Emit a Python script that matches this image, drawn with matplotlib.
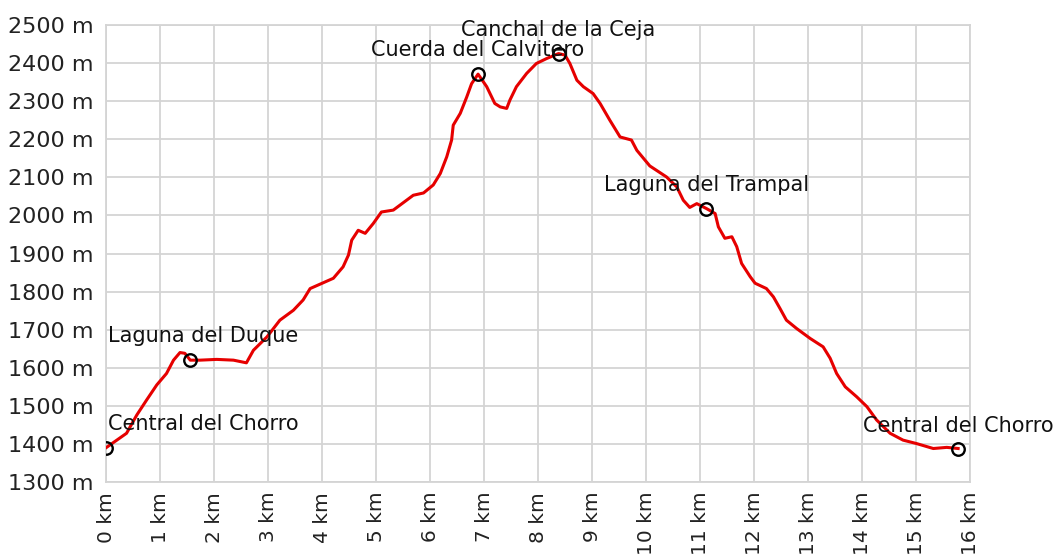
import matplotlib
matplotlib.use("Agg")
import matplotlib.pyplot as plt
from matplotlib.ticker import FixedLocator

plt.rcParams['font.family'] = ['DejaVu Sans']

# perfil de la ruta (km, m)
dist_km = [0, 0.13, 0.38, 0.57, 0.75, 0.94, 1.12, 1.25, 1.37, 1.46,
           1.56, 1.74, 2.05, 2.36, 2.6, 2.73, 2.98, 3.22, 3.47, 3.65,
           3.78, 4.21, 4.39, 4.49, 4.55, 4.67, 4.8, 4.95, 5.1, 5.32,
           5.69, 5.88, 6.06, 6.19, 6.31, 6.4, 6.43, 6.56, 6.68, 6.77,
           6.89, 7.05, 7.2, 7.3, 7.42, 7.48, 7.6, 7.79, 7.97, 8.16,
           8.38, 8.5, 8.59, 8.72, 8.84, 9.02, 9.15, 9.33, 9.52, 9.73,
           9.83, 10.07, 10.38, 10.57, 10.69, 10.81, 10.94, 11.12, 11.28, 11.34,
           11.46, 11.59, 11.68, 11.77, 11.93, 12.02, 12.23, 12.36, 12.48, 12.6,
           12.79, 13.04, 13.28, 13.41, 13.53, 13.69, 13.9, 14.09, 14.27, 14.52,
           14.76, 15.01, 15.32, 15.57, 15.78]
elev_m = [1390, 1403, 1428, 1476, 1515, 1555, 1585, 1620, 1640, 1638,
          1620, 1620, 1622, 1620, 1613, 1646, 1681, 1725, 1751, 1778,
          1808, 1835, 1865, 1896, 1935, 1961, 1953, 1979, 2009, 2014,
          2053, 2059, 2080, 2110, 2154, 2198, 2237, 2268, 2311, 2346,
          2371, 2338, 2294, 2285, 2281, 2303, 2338, 2373, 2399, 2412,
          2425, 2421, 2399, 2355, 2338, 2320, 2294, 2250, 2206, 2198,
          2171, 2130, 2101, 2075, 2040, 2021, 2031, 2018, 2005, 1970,
          1940, 1944, 1918, 1874, 1839, 1822, 1808, 1786, 1756, 1725,
          1703, 1677, 1655, 1625, 1585, 1550, 1524, 1498, 1463, 1428,
          1410, 1401, 1388, 1391, 1388]

# puntos de paso
wp_names = ['Central del Chorro', 'Laguna del Duque', 'Cuerda del Calvitero',
            'Canchal de la Ceja', 'Laguna del Trampal', 'Central del Chorro']
wp_km = [0, 1.56, 6.89, 8.38, 11.12, 15.78]
wp_m = [1390, 1620, 2371, 2425, 2018, 1388]

x_ticks = list(range(0, 17))
y_ticks = list(range(1300, 2501, 100))

fig = plt.figure(figsize=(10.57, 5.57), dpi=100)
ax = fig.add_axes([0.1003, 0.1346, 0.8174, 0.8205])

ax.plot(dist_km, elev_m, color='#e60000', linewidth=2.2, zorder=3)
ax.plot(wp_km, wp_m, linestyle='none', marker='o', markersize=9,
        markerfacecolor='none', markeredgecolor='black', markeredgewidth=1.7, zorder=4)

# etiquetas: centradas encima, salvo las dos primeras (pegadas al borde izquierdo)
offsets = [(2, 24, 'left'), (-82, 24, 'left'), (0, 24, 'center'),
           (0, 24, 'center'), (0, 24, 'center'), (0, 23, 'center')]
for name, xk, ym, (dx, dy, ha) in zip(wp_names, wp_km, wp_m, offsets):
    ax.annotate(name, xy=(xk, ym), xytext=(dx, dy), textcoords='offset pixels',
                ha=ha, va='center', fontsize=15, color='#111111', zorder=5)

ax.set_xlim(0, 16)
ax.set_ylim(1300, 2500)
ax.xaxis.set_major_locator(FixedLocator(x_ticks))
ax.yaxis.set_major_locator(FixedLocator(y_ticks))
ax.set_xticklabels([f'{v} km' for v in x_ticks], rotation=90, fontsize=14.5, color='#222222')
ax.set_yticklabels([f'{v} m' for v in y_ticks], fontsize=16, color='#222222')
ax.tick_params(length=0, pad=7)
ax.tick_params(axis='y', pad=9)

ax.grid(True, color='#d4d4d4', linewidth=1.3)
ax.set_axisbelow(True)
for s in ax.spines.values():
    s.set_color('#d4d4d4')
    s.set_linewidth(1.3)

fig.savefig('out.png', dpi=100)
